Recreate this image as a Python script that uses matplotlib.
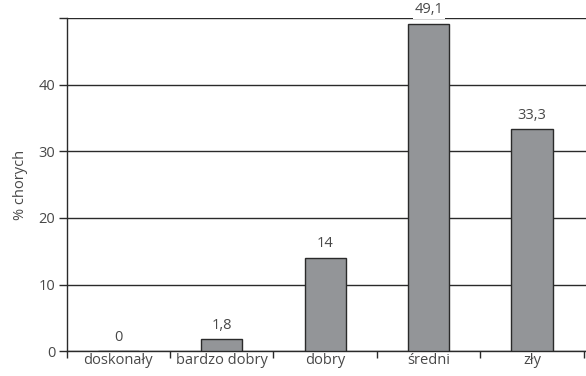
import numpy as np
import matplotlib.pyplot as plt

categories = ["doskonały", "bardzo dobry", "dobry", "średni", "zły"]
values = [0, 1.8, 14, 49.1, 33.3]
value_labels = ["0", "1,8", "14", "49,1", "33,3"]
y_ticks = [0, 10, 20, 30, 40, 50]
y_tick_labels = ["0", "10", "20", "30", "40", ""]

plt.rcParams['font.family'] = ['Open Sans', 'DejaVu Sans']
text_color = "#484848"
line_color = "#2a2a2a"

fig = plt.figure(figsize=(5.86, 3.76), dpi=100)
ax = fig.add_axes([0.1135, 0.066, 0.8865, 0.886])

x = np.arange(len(categories))
ax.bar(x, values, width=0.4, color="#939598", edgecolor=line_color,
       linewidth=1.0, zorder=3)

# value labels above each bar, white box hides the grid line behind them
for xi, v, lab in zip(x, values, value_labels):
    ax.text(xi, v + 1.0, lab, ha="center", va="bottom", fontsize=10.5,
            color=text_color, zorder=4,
            bbox=dict(facecolor="white", edgecolor="none", pad=1.0))

ax.set_xlim(-0.5, 4.52)
ax.set_ylim(0, 50)

ax.set_yticks(y_ticks)
ax.set_yticklabels(y_tick_labels)
ax.yaxis.grid(True, color=line_color, linewidth=1.0, zorder=0)
ax.set_axisbelow(True)

# category boundaries as ticks, names centred between them
ax.set_xticks(np.arange(-0.5, 5.0, 1.0))
ax.set_xticklabels([])
ax.set_xticks(x, minor=True)
ax.set_xticklabels(categories, minor=True)
ax.tick_params(axis="x", which="major", length=5, width=1.0, direction="out", color=line_color)
ax.tick_params(axis="x", which="minor", length=0, pad=1, labelsize=10.5, labelcolor=text_color)
ax.tick_params(axis="y", length=6, width=1.0, color=line_color, pad=2,
               labelsize=10.5, labelcolor=text_color)

for side in ["top", "right"]:
    ax.spines[side].set_visible(False)
for side in ["left", "bottom"]:
    ax.spines[side].set_color(line_color)
    ax.spines[side].set_linewidth(1.0)

ax.set_ylabel("% chorych", fontsize=10.5, color=text_color, labelpad=8)

fig.savefig("out.png", dpi=100)
